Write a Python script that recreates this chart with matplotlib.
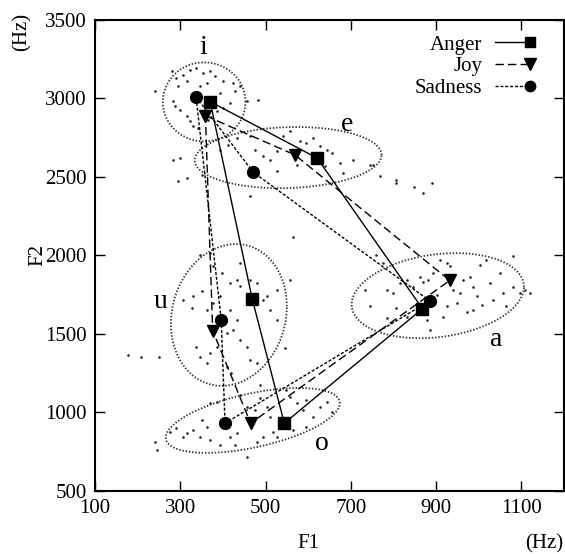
import numpy as np
import matplotlib
matplotlib.use("Agg")
import matplotlib.pyplot as plt
from matplotlib.legend_handler import HandlerLine2D

plt.rcParams['font.family'] = ['Liberation Serif', 'DejaVu Serif']

# ---------------- data ----------------
vowel_order = ['i', 'e', 'a', 'o', 'u']
series_names = ['Anger', 'Joy', 'Sadness']

anger_f1 = [370, 621, 868, 544, 469]
anger_f2 = [2980, 2620, 1660, 930, 1720]
joy_f1 = [359, 569, 932, 465, 376]
joy_f2 = [2890, 2640, 1840, 930, 1520]
sad_f1 = [337, 471, 885, 405, 396]
sad_f2 = [3010, 2530, 1710, 930, 1590]

# individual tokens (approximate)
i_f1 = [280, 291, 307, 323, 338, 354, 370, 381, 401, 424, 440, 241, 284, 288, 299, 315,
        323, 331, 342, 385, 401, 417, 428, 456, 483, 362, 346, 315, 295, 393, 366]
i_f2 = [3173, 3130, 3152, 3183, 3194, 3162, 3173, 3141, 3109, 3098, 3077, 3045, 2981, 2950,
        2928, 2886, 2854, 2822, 2811, 2918, 2939, 2971, 3045, 2981, 2992, 3098, 3077, 3109,
        3077, 3035, 2865]
e_f1 = [284, 299, 295, 315, 350, 393, 413, 432, 463, 475, 495, 510, 526, 542, 557, 581,
        596, 612, 628, 643, 655, 675, 682, 706, 745, 768, 463, 526, 573, 639, 807,
        806, 848, 890, 869, 752]
e_f2 = [2609, 2620, 2471, 2492, 2514, 2673, 2705, 2748, 2758, 2673, 2631, 2609, 2663, 2758,
        2790, 2726, 2716, 2748, 2694, 2673, 2652, 2588, 2524, 2609, 2578, 2503, 2376, 2535,
        2578, 2567, 2482, 2462, 2436, 2462, 2397, 2576]
u_f1 = [307, 331, 327, 350, 362, 377, 393, 417, 432, 440, 463, 479, 495, 510, 503, 526,
        417, 432, 424, 409, 440, 338, 346, 362, 370, 385, 409, 420, 456, 463, 479, 397,
        377, 370, 440, 346, 557, 526, 177, 207, 249, 546, 565]
u_f2 = [1717, 1738, 1663, 1770, 1653, 1695, 1738, 1823, 1844, 1802, 1844, 1823, 1717, 1653,
        1738, 1780, 1653, 1589, 1525, 1504, 1461, 1419, 1355, 1313, 1376, 1419, 1291, 1249,
        1419, 1334, 1313, 1887, 1929, 2014, 1950, 2004, 1844, 1589, 1365, 1352, 1352, 1408,
        2120]
o_f1 = [241, 245, 276, 291, 315, 331, 350, 362, 370, 385, 417, 432, 440, 456, 475, 487,
        503, 510, 518, 526, 534, 557, 573, 589, 596, 612, 628, 643, 655, 370, 393, 428,
        456, 479, 495, 565, 596, 549, 487, 346, 307]
o_f2 = [813, 760, 877, 898, 866, 887, 951, 909, 1057, 1068, 845, 866, 1111, 1036, 1015, 1089,
        1036, 972, 877, 845, 909, 1100, 1057, 1015, 1079, 972, 1036, 1068, 1004, 824, 792,
        792, 717, 813, 845, 887, 909, 1142, 1174, 845, 845]
a_f1 = [733, 745, 760, 776, 784, 800, 815, 831, 846, 862, 870, 882, 893, 909, 925, 932,
        940, 956, 964, 979, 987, 995, 1003, 1018, 1026, 1034, 1050, 1058, 1065, 1081, 1097,
        1108, 901, 925, 948, 972, 987, 878, 886, 917, 831, 807, 784, 1081, 1120, 1007]
a_f2 = [1780, 1674, 2003, 1950, 1780, 1759, 1823, 1844, 1801, 1865, 1833, 1844, 1886, 1971,
        1950, 1929, 1780, 1759, 1844, 1865, 1801, 1738, 1940, 1971, 1823, 1716, 1886, 1759,
        1674, 1801, 1759, 1780, 1748, 1674, 1695, 1642, 1653, 1589, 1525, 1610, 1610, 1663,
        1599, 1993, 1759, 1684]

# ellipse parameters per vowel: centre F1, centre F2, half-range F1, half-range F2, phase (deg)
ell_cx = [356, 553, 904, 470, 414]
ell_cy = [2978, 2623, 1743, 948, 1620]
ell_sx = [97, 219, 202, 204, 136]
ell_sy = [252, 195, 271, 207, 452]
ell_ph = [90, 85, 78, 58, 83]

# vowel label positions
lab_f1 = [353, 691, 1042, 632, 253]
lab_f2 = [3325, 2832, 1461, 798, 1705]

x_ticks = [100, 300, 500, 700, 900, 1100]
y_ticks = [500, 1000, 1500, 2000, 2500, 3000, 3500]

# ---------------- figure ----------------
W, H = 565, 554
fig = plt.figure(figsize=(W / 100, H / 100), dpi=100)
ax = fig.add_axes([95 / W, 1 - 490.7 / H, (564 - 95) / W, (490.7 - 20) / H])

# tokens
for xs, ys in [(i_f1, i_f2), (e_f1, e_f2), (u_f1, u_f2), (o_f1, o_f2), (a_f1, a_f2)]:
    ax.scatter(xs, ys, s=3.5, color='0.15', linewidths=0, zorder=1)

# ellipses
t = np.linspace(0, 2 * np.pi, 300)
for cx, cy, sx, sy, ph in zip(ell_cx, ell_cy, ell_sx, ell_sy, ell_ph):
    ex = cx + sx * np.cos(t)
    ey = cy + sy * np.cos(t - np.deg2rad(ph))
    ax.plot(ex, ey, color='0.2', lw=1.3, linestyle=(0, (0.8, 1.0)), zorder=2)

# mean polygons
styles = [('-', 's', 8), ((0, (6, 3)), 'v', 9), ((0, (2.2, 1.3)), 'o', 8.5)]
handles = []
for (f1, f2), name, (ls, mk, ms) in zip([(anger_f1, anger_f2), (joy_f1, joy_f2), (sad_f1, sad_f2)],
                                        series_names, styles):
    xs = list(f1) + [f1[0]]
    ys = list(f2) + [f2[0]]
    ax.plot(xs, ys, color='black', lw=1.0, linestyle=ls, zorder=3)
    ax.plot(f1, f2, color='black', linestyle='None', marker=mk, markersize=ms, zorder=4)
    hl, = ax.plot([], [], color='black', lw=1.0, linestyle=ls, marker=mk, markersize=ms - 1,
                  label=name)
    handles.append(hl)

for v, x, y in zip(vowel_order, lab_f1, lab_f2):
    ax.text(x, y, v, fontsize=20, ha='center', va='center')


class HandlerRightMarker(HandlerLine2D):
    """Legend handle with the line on the left and the marker at its right end."""
    def create_artists(self, legend, orig_handle, xdescent, ydescent, width, height,
                       fontsize, trans):
        arts = super().create_artists(legend, orig_handle, xdescent, ydescent, width,
                                      height, fontsize, trans)
        for a in arts:
            xd = np.asarray(a.get_xdata(), dtype=float)
            yd = np.asarray(a.get_ydata(), dtype=float)
            a.set_data([xd[0], xd[-1]], [yd[0], yd[-1]])
            a.set_markevery([1])
        return arts


leg = ax.legend(handles=handles, loc='upper right', bbox_to_anchor=(0.95, 0.99),
                frameon=False, markerfirst=False, numpoints=1, fontsize=15,
                handlelength=1.7, handletextpad=0.6, labelspacing=0.1, borderpad=0,
                handler_map={h: HandlerRightMarker() for h in handles})

ax.set_xlim(100, 1200)
ax.set_ylim(500, 3500)
ax.set_xticks(x_ticks)
ax.set_yticks(y_ticks)
ax.tick_params(direction='in', top=True, right=True, length=7, width=1.0,
               labelsize=15, pad=6)
for s in ax.spines.values():
    s.set_linewidth(1.5)

fig.text(38 / W, 1 - 255 / H, 'F2', rotation=90, ha='center', va='center', fontsize=15)
fig.text(22 / W, 1 - 32 / H, '(Hz)', rotation=90, ha='center', va='center', fontsize=15)
fig.text(308 / W, 1 - 544 / H, 'F1', ha='center', va='center', fontsize=15)
fig.text(544 / W, 1 - 544 / H, '(Hz)', ha='center', va='center', fontsize=15)

fig.savefig('out.png', dpi=100)
